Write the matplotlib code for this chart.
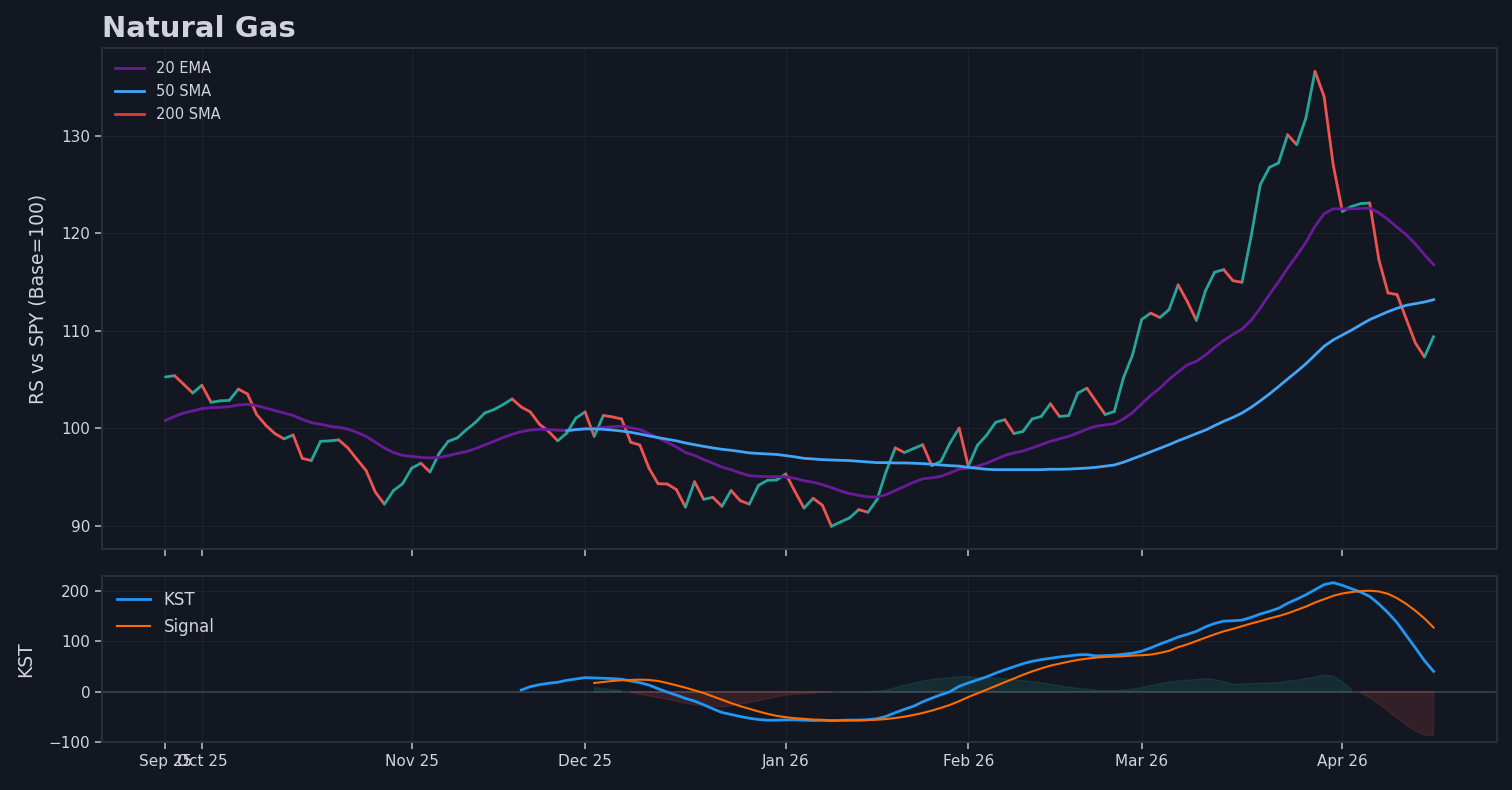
import numpy as np
import matplotlib
matplotlib.use('Agg')
import matplotlib.pyplot as plt
from matplotlib.collections import LineCollection

# relative strength vs SPY, one value per trading day (Sep 25 2025 .. Apr 16 2026)
rs = [105.25, 105.38, 104.5, 103.6, 104.4, 102.65, 102.8, 102.85, 104.0, 103.5,
      101.4, 100.3, 99.44, 98.9, 99.3, 96.9, 96.67, 98.65, 98.69, 98.79,
      97.97, 96.8, 95.64, 93.45, 92.2, 93.6, 94.3, 95.9, 96.4, 95.5,
      97.4, 98.65, 99.0, 99.85, 100.6, 101.55, 101.9, 102.4, 103.0, 102.17,
      101.66, 100.4, 99.67, 98.7, 99.5, 101.04, 101.66, 99.16, 101.3, 101.15,
      100.94, 98.55, 98.27, 95.9, 94.3, 94.27, 93.7, 91.9, 94.5, 92.7,
      92.9, 91.98, 93.6, 92.56, 92.2, 94.13, 94.65, 94.68, 95.3, 93.5,
      91.8, 92.8, 92.1, 89.93, 90.37, 90.8, 91.64, 91.37, 92.67, 95.57,
      97.97, 97.5, 97.9, 98.3, 96.15, 96.6, 98.48, 100.0, 96.1, 98.24,
      99.27, 100.6, 100.87, 99.44, 99.67, 100.94, 101.2, 102.5, 101.2, 101.28,
      103.6, 104.1, 102.75, 101.4, 101.7, 105.15, 107.5, 111.15, 111.8, 111.35,
      112.15, 114.7, 113.0, 111.06, 114.1, 116.0, 116.26, 115.13, 114.96, 119.67,
      124.97, 126.75, 127.2, 130.1, 129.08, 131.8, 136.6, 134.03, 127.0, 122.24,
      122.75, 123.03, 123.1, 117.3, 113.87, 113.7, 111.2, 108.74, 107.3, 109.4]

ema20 = [100.8, 101.2, 101.55, 101.76, 102.0, 102.1, 102.13, 102.2, 102.38, 102.45,
         102.3, 102.06, 101.8, 101.55, 101.3, 100.9, 100.56, 100.4, 100.2, 100.08,
         99.9, 99.57, 99.16, 98.55, 97.97, 97.5, 97.2, 97.1, 97.0, 96.94,
         97.0, 97.18, 97.4, 97.6, 97.9, 98.27, 98.65, 99.03, 99.37, 99.64,
         99.8, 99.88, 99.85, 99.78, 99.74, 99.85, 99.95, 99.98, 100.08, 100.15,
         100.2, 100.05, 99.85, 99.44, 99.0, 98.55, 98.07, 97.5, 97.2, 96.77,
         96.4, 96.0, 95.74, 95.4, 95.13, 95.06, 95.03, 95.03, 95.0, 94.85,
         94.6, 94.45, 94.2, 93.9, 93.56, 93.28, 93.1, 92.94, 92.94, 93.18,
         93.6, 94.03, 94.44, 94.8, 94.9, 95.06, 95.4, 95.8, 95.9, 96.1,
         96.4, 96.8, 97.2, 97.46, 97.66, 97.97, 98.3, 98.65, 98.9, 99.16,
         99.5, 99.9, 100.2, 100.33, 100.46, 100.94, 101.6, 102.5, 103.37, 104.1,
         105.0, 105.76, 106.5, 106.85, 107.5, 108.3, 109.0, 109.6, 110.17, 111.06,
         112.3, 113.7, 115.0, 116.4, 117.7, 119.06, 120.7, 122.0, 122.5, 122.5,
         122.5, 122.54, 122.58, 122.1, 121.4, 120.6, 119.85, 118.9, 117.8, 116.77]

# 50 SMA only exists from index 44 on
sma50_start = 44
sma50 = [99.74, 99.85, 99.92, 99.92, 99.88, 99.8, 99.7, 99.57, 99.4, 99.2,
         99.03, 98.86, 98.7, 98.48, 98.3, 98.13, 97.97, 97.83, 97.73, 97.6,
         97.46, 97.4, 97.35, 97.3, 97.18, 97.05, 96.9, 96.84, 96.77, 96.73,
         96.7, 96.67, 96.6, 96.53, 96.46, 96.46, 96.43, 96.43, 96.4, 96.36,
         96.3, 96.22, 96.15, 96.1, 95.98, 95.88, 95.78, 95.74, 95.74, 95.74,
         95.74, 95.74, 95.74, 95.78, 95.78, 95.8, 95.85, 95.9, 95.98, 96.1,
         96.22, 96.5, 96.85, 97.2, 97.57, 97.93, 98.3, 98.7, 99.06, 99.44,
         99.8, 100.26, 100.7, 101.1, 101.55, 102.13, 102.8, 103.5, 104.26, 105.04,
         105.8, 106.6, 107.5, 108.4, 109.05, 109.55, 110.05, 110.6, 111.13, 111.54,
         111.95, 112.3, 112.6, 112.77, 112.94, 113.18]

kst_start = 39
kst = [3.3, 10, 14, 16.7, 18.7, 22.7, 25.3, 28, 27.3, 26.7,
       26, 24.7, 21.3, 18, 13.3, 6, -0.7, -6.7, -13.3, -18.7,
       -26, -34, -41.3, -45.3, -49.3, -52.7, -55.3, -56.7, -56.7, -56,
       -56, -56.7, -57.3, -57, -57.7, -57, -56.4, -56.4, -55.7, -53.7,
       -49, -41.6, -35, -28.9, -20.1, -12.8, -6, 0, 10.7, 17.4,
       23.5, 29.5, 36.9, 43.6, 49.7, 55.7, 60.4, 63.8, 66.4, 69.1,
       71.1, 73.2, 73.8, 71.1, 71.8, 72.5, 74.5, 76.5, 80.5, 87.2,
       94.6, 101.4, 108.7, 114, 120, 128.9, 135.6, 140.3, 141, 142.3,
       147.7, 154.4, 159.7, 165.8, 175.8, 183.9, 192.6, 202.7, 212.8, 216.8,
       211.4, 204.7, 198, 189.3, 174.5, 157, 137, 112, 87.2, 61.7,
       40.3]

signal_start = 47
signal = [17.3, 19.3, 21.3, 22.7, 23.3, 24, 23.3, 21.3, 17.3, 12.7,
          8, 2.7, -2.7, -9.3, -16, -22.7, -28.7, -34, -39.3, -44,
          -48, -50.7, -52.7, -54, -55.3, -56, -57, -57, -57, -57,
          -56.4, -55.7, -54.4, -52.3, -49.7, -46.3, -42.3, -37.6, -32.2, -26.2,
          -18.8, -10.7, -3.4, 4, 11.4, 18.8, 26.2, 33.6, 40.3, 46.3,
          51.7, 55.7, 59.7, 63.1, 65.8, 67.8, 69.1, 69.8, 70.5, 71.8,
          72.5, 73.8, 77, 81.2, 88.6, 94, 100.7, 107.4, 114, 120,
          124.8, 130.2, 135.6, 140.3, 145.6, 150.3, 155.7, 162.4, 169.1, 177.2,
          183.9, 190.6, 195.3, 198, 200, 200.7, 199.3, 194.6, 185.9, 174.5,
          161, 145.6, 127.5]

hist = [8, 6, 4, 2, -2, -5, -8, -12, -15, -19,
        -23, -26, -28, -29, -30, -28, -25, -21, -18, -14,
        -10, -7, -5, -4, -3, -1, -1, 0, 0, 0,
        0, 1, 3, 8, 13, 17, 21, 24, 26, 28,
        30, 30, 28, 27, 27, 26, 24, 22, 20, 18,
        15, 12, 9, 7, 5, 3, 2, 2, 3, 5,
        8, 12, 16, 19, 21, 23, 24, 26, 24, 20,
        15, 15, 16, 17, 17, 18, 21, 23, 26, 29,
        33, 31, 19, 5, -2, -12, -24, -38, -52, -66,
        -78, -86, -88]

tick_idx = [0, 4, 27, 46, 68, 88, 107, 129]
tick_labels = ['Sep 25', 'Oct 25', 'Nov 25', 'Dec 25', 'Jan 26', 'Feb 26', 'Mar 26', 'Apr 26']

BG = '#131722'
TXT = '#d1d4dc'
GRID = '#1e222d'
SPINE = '#2a2e39'
UP = '#26a69a'
DOWN = '#ef5350'

plt.rcParams['font.family'] = ['DejaVu Sans']
plt.rcParams['text.color'] = TXT
plt.rcParams['axes.labelcolor'] = TXT
plt.rcParams['xtick.color'] = '#b2b5be'
plt.rcParams['ytick.color'] = '#b2b5be'
plt.rcParams['xtick.labelcolor'] = TXT
plt.rcParams['ytick.labelcolor'] = TXT

fig = plt.figure(figsize=(15.12, 7.9), dpi=100, facecolor=BG)
ax = fig.add_axes([102 / 1512, 1 - 549 / 790, 1395 / 1512, 501 / 790])
ax2 = fig.add_axes([102 / 1512, 1 - 742 / 790, 1395 / 1512, 166 / 790], sharex=ax)

n = len(rs)
x = np.arange(n)

# price line coloured by direction of each step
pts = np.column_stack([x, rs])
segs = np.stack([pts[:-1], pts[1:]], axis=1)
cols = [UP if rs[i + 1] >= rs[i] else DOWN for i in range(n - 1)]
ax.add_collection(LineCollection(segs, colors=cols, linewidths=2.0, capstyle='round', zorder=3))

ax.plot(x, ema20, color='#6a1b9a', lw=2.0, label='20 EMA', zorder=4)
ax.plot(x[sma50_start:], sma50, color='#42a5f5', lw=2.0, label='50 SMA', zorder=4)
ax.plot([], [], color='#e53935', lw=2.0, label='200 SMA')

ax.set_xlim(-6.95, n - 1 + 6.95)
ax.set_ylim(87.6, 139.0)
ax.set_yticks([90, 100, 110, 120, 130])
ax.set_ylabel('RS vs SPY (Base=100)', fontsize=13.5, labelpad=10)
leg = ax.legend(loc='upper left', fontsize=10.5, frameon=False, labelspacing=0.55)
for t in leg.get_texts():
    t.set_color(TXT)

# KST panel
xk = x[kst_start:]
xs = x[signal_start:]
h = np.array(hist, dtype=float)
ax2.fill_between(xs, 0, h, where=h >= 0, color=UP, alpha=0.15, lw=1, zorder=2)
ax2.fill_between(xs, 0, h, where=h < 0, color=DOWN, alpha=0.15, lw=1, zorder=2)
ax2.axhline(0, color='#363a45', lw=1.5, zorder=1)
ax2.plot(xk, kst, color='#2196f3', lw=2.0, label='KST', zorder=4)
ax2.plot(xs, signal, color='#ff6d00', lw=1.5, label='Signal', zorder=4)
ax2.set_ylim(-100, 230)
ax2.set_yticks([-100, 0, 100, 200])
ax2.set_ylabel('KST', fontsize=13.5, labelpad=10)
leg2 = ax2.legend(loc='upper left', fontsize=12, frameon=False, labelspacing=0.55)
for t in leg2.get_texts():
    t.set_color(TXT)

for a in (ax, ax2):
    a.set_facecolor(BG)
    a.grid(True, color=GRID, lw=0.8)
    a.set_axisbelow(True)
    for s in a.spines.values():
        s.set_color(SPINE)
        s.set_linewidth(1.5)
    a.tick_params(labelsize=11, length=5, width=1.2)
    a.set_xticks(tick_idx)

ax2.set_xticklabels(tick_labels)
ax.tick_params(labelbottom=False)

fig.text(102 / 1512, 1 - 37 / 790, 'Natural Gas', fontsize=21, fontweight='bold',
         color=TXT, ha='left', va='baseline')

fig.savefig('out.png', dpi=100, facecolor=BG)
